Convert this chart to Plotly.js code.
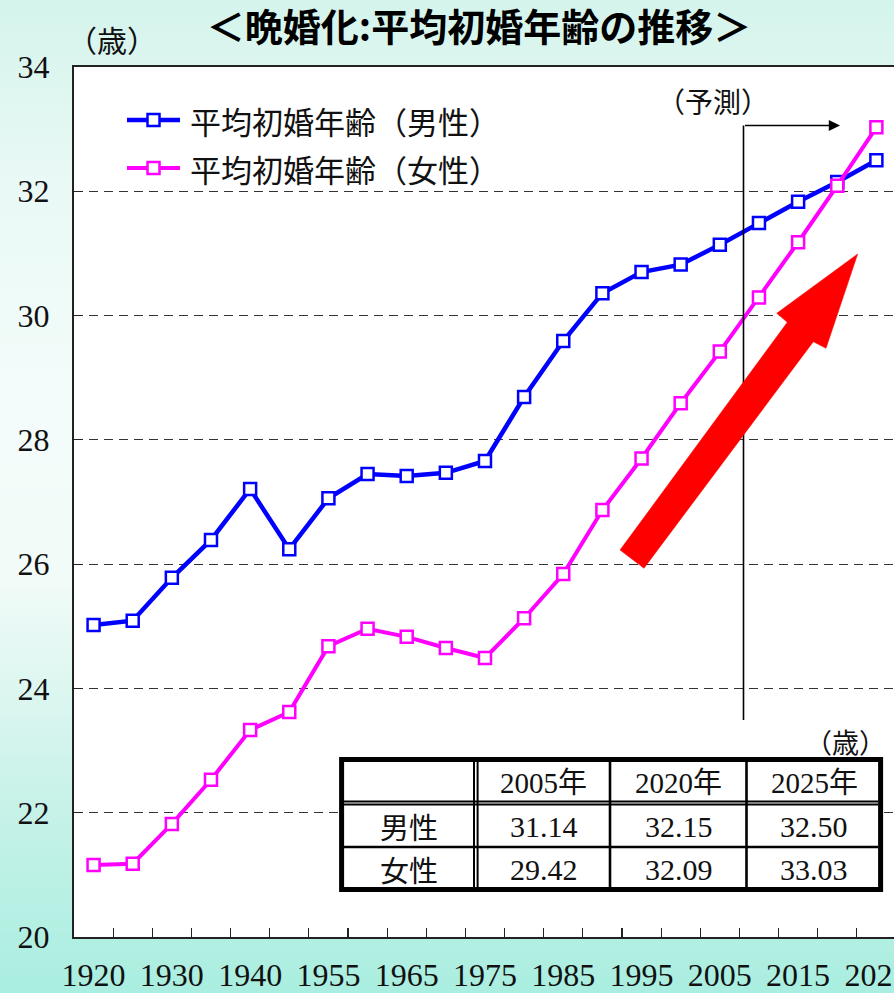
<!DOCTYPE html>
<html>
<head>
<meta charset="utf-8">
<script src="https://cdn.plot.ly/plotly-3.0.1.min.js"></script>
<style>
  html, body { margin: 0; padding: 0; }
  body {
    width: 894px; height: 993px; overflow: hidden;
    background: linear-gradient(180deg, #d4f4ec 0%, #e9f9f5 18%, #f3fcfa 40%, #f2fbf8 58%, #c9f2e9 80%, #a9eee0 100%);
  }
  #chart { width: 894px; height: 993px; }
</style>
</head>
<body>
<div id="chart"></div>
<script>
// ---- data ----
const years = ['1920','1925','1930','1935','1940','1950','1955','1960','1965','1970','1975',
               '1980','1985','1990','1995','2000','2005','2010','2015','2020','2025'];
const xTickLabels = ['1920','','1930','','1940','','1955','','1965','','1975',
                     '','1985','','1995','','2005','','2015','','2025'];
const maleAge = [25.02, 25.09, 25.78, 26.39, 27.21, 26.24, 27.06, 27.45, 27.42, 27.47, 27.66,
                 28.69, 29.59, 30.36, 30.70, 30.82, 31.14, 31.49, 31.83, 32.15, 32.50];
const femaleAge = [21.16, 21.18, 21.82, 22.53, 23.33, 23.62, 24.68, 24.96, 24.83, 24.65, 24.49,
                   25.13, 25.84, 26.87, 27.70, 28.59, 29.42, 30.29, 31.18, 32.09, 33.03];
const seriesNames = ['平均初婚年齢（男性）', '平均初婚年齢（女性）'];
const tableHeader = ['2005年', '2020年', '2025年'];
const tableRowLabels = ['男性', '女性'];
const tableMale = ['31.14', '32.15', '32.50'];
const tableFemale = ['29.42', '32.09', '33.03'];

// ---- layout helpers (pixel -> paper) ----
const L = 74, R = 894, T = 67, B = 937;
const PX = x => (x - L) / (R - L);
const PY = y => (B - y) / (B - T);

const SERIF = '"Liberation Serif", "Times New Roman", "Noto Sans CJK JP", serif';
const JP = '"Noto Sans CJK JP", sans-serif';
const BLUE = '#0000ff', MAG = '#ff00ff';

const traces = [
  { x: years, y: maleAge, type: 'scatter', mode: 'lines+markers', name: seriesNames[0],
    line: { color: BLUE, width: 4.5 },
    marker: { symbol: 'square', size: 12, color: '#ffffff', line: { color: BLUE, width: 2.5 } } },
  { x: years, y: femaleAge, type: 'scatter', mode: 'lines+markers', name: seriesNames[1],
    line: { color: MAG, width: 4 },
    marker: { symbol: 'square', size: 12, color: '#ffffff', line: { color: MAG, width: 2.5 } } }
];

const shapes = [];
const annotations = [];
function txt(x, y, text, font, xanchor) {
  annotations.push({ xref: 'paper', yref: 'paper', x: PX(x), y: PY(y), text: text, showarrow: false,
    xanchor: xanchor || 'center', yanchor: 'middle', font: font });
}

// legend background (hides the 32 gridline)
shapes.push({ type: 'rect', xref: 'paper', yref: 'paper', layer: 'between',
  x0: PX(80), x1: PX(535), y0: PY(205), y1: PY(90), fillcolor: '#ffffff', line: { width: 0 } });
// manual legend
[[120, BLUE, 4.5], [168, MAG, 4]].forEach((it, i) => {
  const [yy, col, w] = it;
  shapes.push({ type: 'line', xref: 'paper', yref: 'paper', x0: PX(127), x1: PX(180), y0: PY(yy), y1: PY(yy),
    line: { color: col, width: w } });
  shapes.push({ type: 'rect', xref: 'paper', yref: 'paper', xsizemode: 'pixel', ysizemode: 'pixel',
    xanchor: PX(153.5), yanchor: PY(yy), x0: -6, x1: 6, y0: -6, y1: 6,
    fillcolor: '#ffffff', line: { color: col, width: 2.5 } });
  txt(188, yy, seriesNames[i], { family: JP, size: 31, color: '#111' }, 'left');
});

// forecast marker line + arrow
shapes.push({ type: 'line', xref: 'paper', yref: 'paper', x0: PX(743.5), x1: PX(743.5), y0: PY(125.5), y1: PY(720),
  line: { color: '#000', width: 1.6 } });
annotations.push({ xref: 'paper', yref: 'paper', x: PX(840), y: PY(125.5), ax: PX(743.5), ay: PY(125.5),
  axref: 'paper', ayref: 'paper', text: '', showarrow: true, arrowhead: 2, arrowsize: 1.4, arrowwidth: 1.6, arrowcolor: '#000' });
txt(713, 101, '（予測）', { family: JP, size: 28, color: '#111' });

// big red arrow
const arrowPts = [[620, 550], [644, 568.3], [813.3, 341.7], [826, 348.3], [857.7, 254], [776.7, 313.3], [787.3, 322.3]];
shapes.push({ type: 'path', xref: 'paper', yref: 'paper', layer: 'above',
  path: 'M' + arrowPts.map(p => PX(p[0]).toFixed(4) + ',' + PY(p[1]).toFixed(4)).join(' L') + ' Z',
  fillcolor: '#ff0000', line: { color: '#ff0000', width: 0.5 } });

// unit labels
txt(112, 39, '（歳）', { family: JP, size: 30, color: '#111' });
txt(845, 741, '（歳）', { family: JP, size: 27, color: '#111' });

// table
shapes.push({ type: 'rect', xref: 'paper', yref: 'paper', x0: PX(341.6), x1: PX(880.6), y0: PY(889.6), y1: PY(759.5),
  fillcolor: '#ffffff', line: { color: '#000', width: 5 } });
[474, 477.6].forEach(x => shapes.push({ type: 'line', xref: 'paper', yref: 'paper', x0: PX(x), x1: PX(x), y0: PY(762), y1: PY(887),
  line: { color: '#000', width: 2 } }));
[801.6, 804.6].forEach(y => shapes.push({ type: 'line', xref: 'paper', yref: 'paper', x0: PX(344), x1: PX(878), y0: PY(y), y1: PY(y),
  line: { color: '#000', width: 2 } }));
shapes.push({ type: 'line', xref: 'paper', yref: 'paper', x0: PX(344), x1: PX(878), y0: PY(847), y1: PY(847), line: { color: '#000', width: 2.6 } });
[610, 746.5].forEach(x => shapes.push({ type: 'line', xref: 'paper', yref: 'paper', x0: PX(x), x1: PX(x), y0: PY(762), y1: PY(887),
  line: { color: '#000', width: 2.6 } }));
const colX = [408.5, 543.5, 678.5, 814];
const rowY = [782.5, 826, 869];
tableHeader.forEach((t, i) => txt(colX[i + 1], rowY[0], t, { family: SERIF, size: 29, color: '#111' }));
tableRowLabels.forEach((t, i) => txt(colX[0], rowY[i + 1], t, { family: JP, size: 29, color: '#111' }));
[tableMale, tableFemale].forEach((row, r) => row.forEach((t, i) =>
  txt(colX[i + 1], rowY[r + 1], t, { family: SERIF, size: 30, color: '#111' })));

const layout = {
  width: 894, height: 993,
  margin: { l: L, r: 0, t: T, b: 993 - B, pad: 0 },
  paper_bgcolor: 'rgba(0,0,0,0)',
  plot_bgcolor: '#ffffff',
  showlegend: false,
  title: { text: '<b>＜晩婚化:平均初婚年齢の推移＞</b>', font: { family: JP, size: 38, color: '#000' },
    x: 479 / 894, xanchor: 'center', xref: 'container', y: 1 - 28 / 993, yanchor: 'middle', yref: 'container' },
  xaxis: {
    type: 'category', range: [-0.5, 20.45], tickvals: years, ticktext: xTickLabels,
    tickson: 'boundaries', ticks: 'inside', ticklen: 9, tickwidth: 1.2, tickcolor: '#222',
    showgrid: false, showline: true, linecolor: '#222', linewidth: 2, mirror: true,
    tickangle: 0, tickfont: { family: SERIF, size: 32, color: '#111' }, ticklabelstandoff: 9, ticklabeloverflow: 'allow',
    fixedrange: true
  },
  yaxis: {
    range: [20, 34], dtick: 2, tick0: 20, ticks: 'inside', ticklen: 9, tickwidth: 1.2, tickcolor: '#222',
    showgrid: true, gridcolor: '#333', gridwidth: 1.2, griddash: '9px,6px',
    showline: true, linecolor: '#222', linewidth: 2, zeroline: false,
    tickfont: { family: SERIF, size: 32, color: '#111' }, ticklabelstandoff: 16,
    fixedrange: true
  },
  shapes: shapes,
  annotations: annotations
};

Plotly.newPlot('chart', traces, layout, { displayModeBar: false, staticPlot: true });
</script>
</body>
</html>
